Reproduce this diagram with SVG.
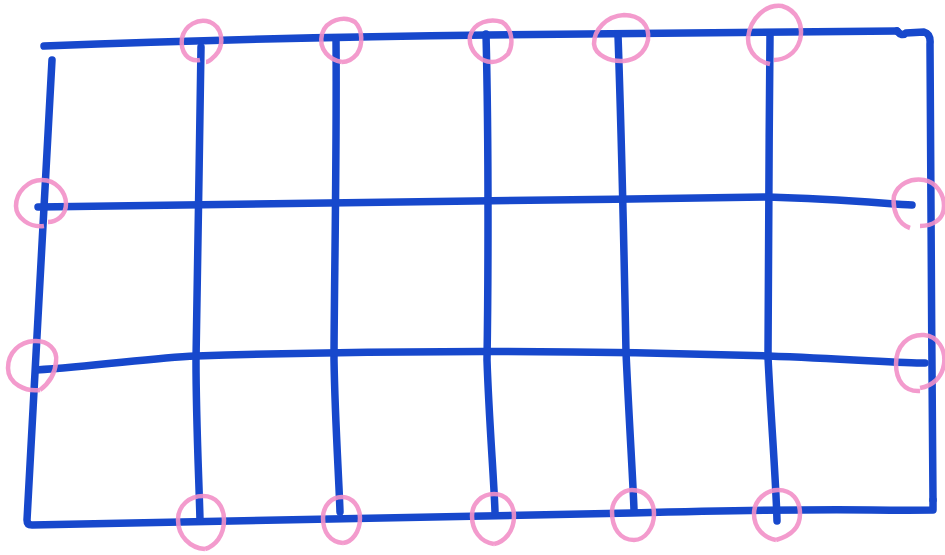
<svg xmlns="http://www.w3.org/2000/svg" width="945" height="555" viewBox="0 0 945 555">
<style>
.b{fill:none;stroke:#1748cc;stroke-width:7.5;stroke-linecap:round;stroke-linejoin:round}
.p{fill:none;stroke:#f290c8;stroke-width:4.5;opacity:0.9}
</style>
<rect width="945" height="555" fill="#fff"/>
<g id="connectors">
<path class="b" d="M44,46 C150,42 300,37 488,35 S800,32 897,31"/>
<path class="b" d="M897,31 Q902,37 906,33 L924,32 Q931,34 930,44 C930,150 932,350 933,500"/>
<path class="b" d="M52,60 C48,150 36,350 27,520 Q27,525 32,525 C200,523 400,519 632,513 S850,511 933,510 L933,500"/>
<path class="b" d="M201,47 C200,150 196,300 196,360 C196,420 199,480 200,520"/>
<path class="b" d="M336,38 C337,150 334,300 334,360 C335,420 339,480 340,512"/>
<path class="b" d="M486,34 C489,150 488,300 487,360 C489,420 494,480 495,512"/>
<path class="b" d="M618,35 C622,150 625,300 626,352 C629,420 633,480 634,510"/>
<path class="b" d="M770,36 C769,150 768,300 768,357 C771,420 776,480 777,521"/>
<path class="b" d="M38,207 C200,204 500,201 768,197 C840,199 890,204 912,205"/>
<path class="b" d="M36,370 C100,366 150,358 196,356 C350,351 550,349 768,356 C850,359 900,363 925,363"/>
</g>
<g id="circle-top-1"><path class="p" d="M200,60 C188,62 180,52 182,38 C185,25 198,18 210,22 C222,27 224,42 218,52 C214,58 208,62 206,62"/></g>
<g id="circle-top-2"><path class="p" d="M342,62 C330,60 318,50 322,34 C326,20 344,15 355,22 C363,30 363,45 357,54 C352,60 346,62 342,62"/></g>
<g id="circle-top-3"><path class="p" d="M492,62 C480,62 468,50 470,36 C474,22 490,18 502,22 C512,28 514,44 508,54 C502,60 496,62 492,62"/></g>
<g id="circle-top-4"><path class="p" d="M624,61 C610,62 595,55 594,44 C594,30 606,16 624,15 C640,15 650,25 648,40 C645,54 634,60 624,61"/></g>
<g id="circle-top-5"><path class="p" d="M770,64 C760,62 748,54 748,38 C750,18 766,4 782,6 C796,10 804,24 800,40 C796,54 784,60 774,60"/></g>
<g id="circle-left-1"><path class="p" d="M44,226 C30,228 16,218 16,206 C16,192 28,180 42,180 C56,180 66,192 66,204 C66,216 56,222 48,222"/></g>
<g id="circle-left-2"><path class="p" d="M40,390 C26,392 8,384 8,368 C8,352 20,342 34,341 C48,340 58,350 56,362 C55,375 48,384 40,390"/></g>
<g id="circle-right-1"><path class="p" d="M910,228 C898,224 892,210 894,196 C898,184 910,178 924,180 C936,182 944,194 944,206 C944,220 932,226 920,226"/></g>
<g id="circle-right-2"><path class="p" d="M920,391 C904,392 896,380 896,364 C896,346 908,334 924,335 C938,336 946,350 944,364 C942,378 932,386 920,388"/></g>
<g id="circle-bottom-1"><path class="p" d="M205,549 C190,548 178,536 178,520 C178,505 190,496 203,496 C216,496 224,506 224,520 C224,536 215,546 205,549"/></g>
<g id="circle-bottom-2"><path class="p" d="M343,543 C330,542 323,532 323,518 C323,505 332,497 342,497 C352,497 360,506 360,518 C360,532 352,542 343,543"/></g>
<g id="circle-bottom-3"><path class="p" d="M494,544 C480,542 472,530 472,516 C472,503 482,494 494,494 C506,494 514,504 514,516 C514,532 504,542 494,544"/></g>
<g id="circle-bottom-4"><path class="p" d="M634,540 C620,540 612,528 612,512 C612,500 622,490 632,490 C645,490 654,500 654,514 C654,528 645,540 634,540"/></g>
<g id="circle-bottom-5"><path class="p" d="M776,540 C764,538 754,528 754,514 C754,500 766,490 778,490 C792,490 800,500 800,514 C800,528 790,536 776,540"/></g>
</svg>
